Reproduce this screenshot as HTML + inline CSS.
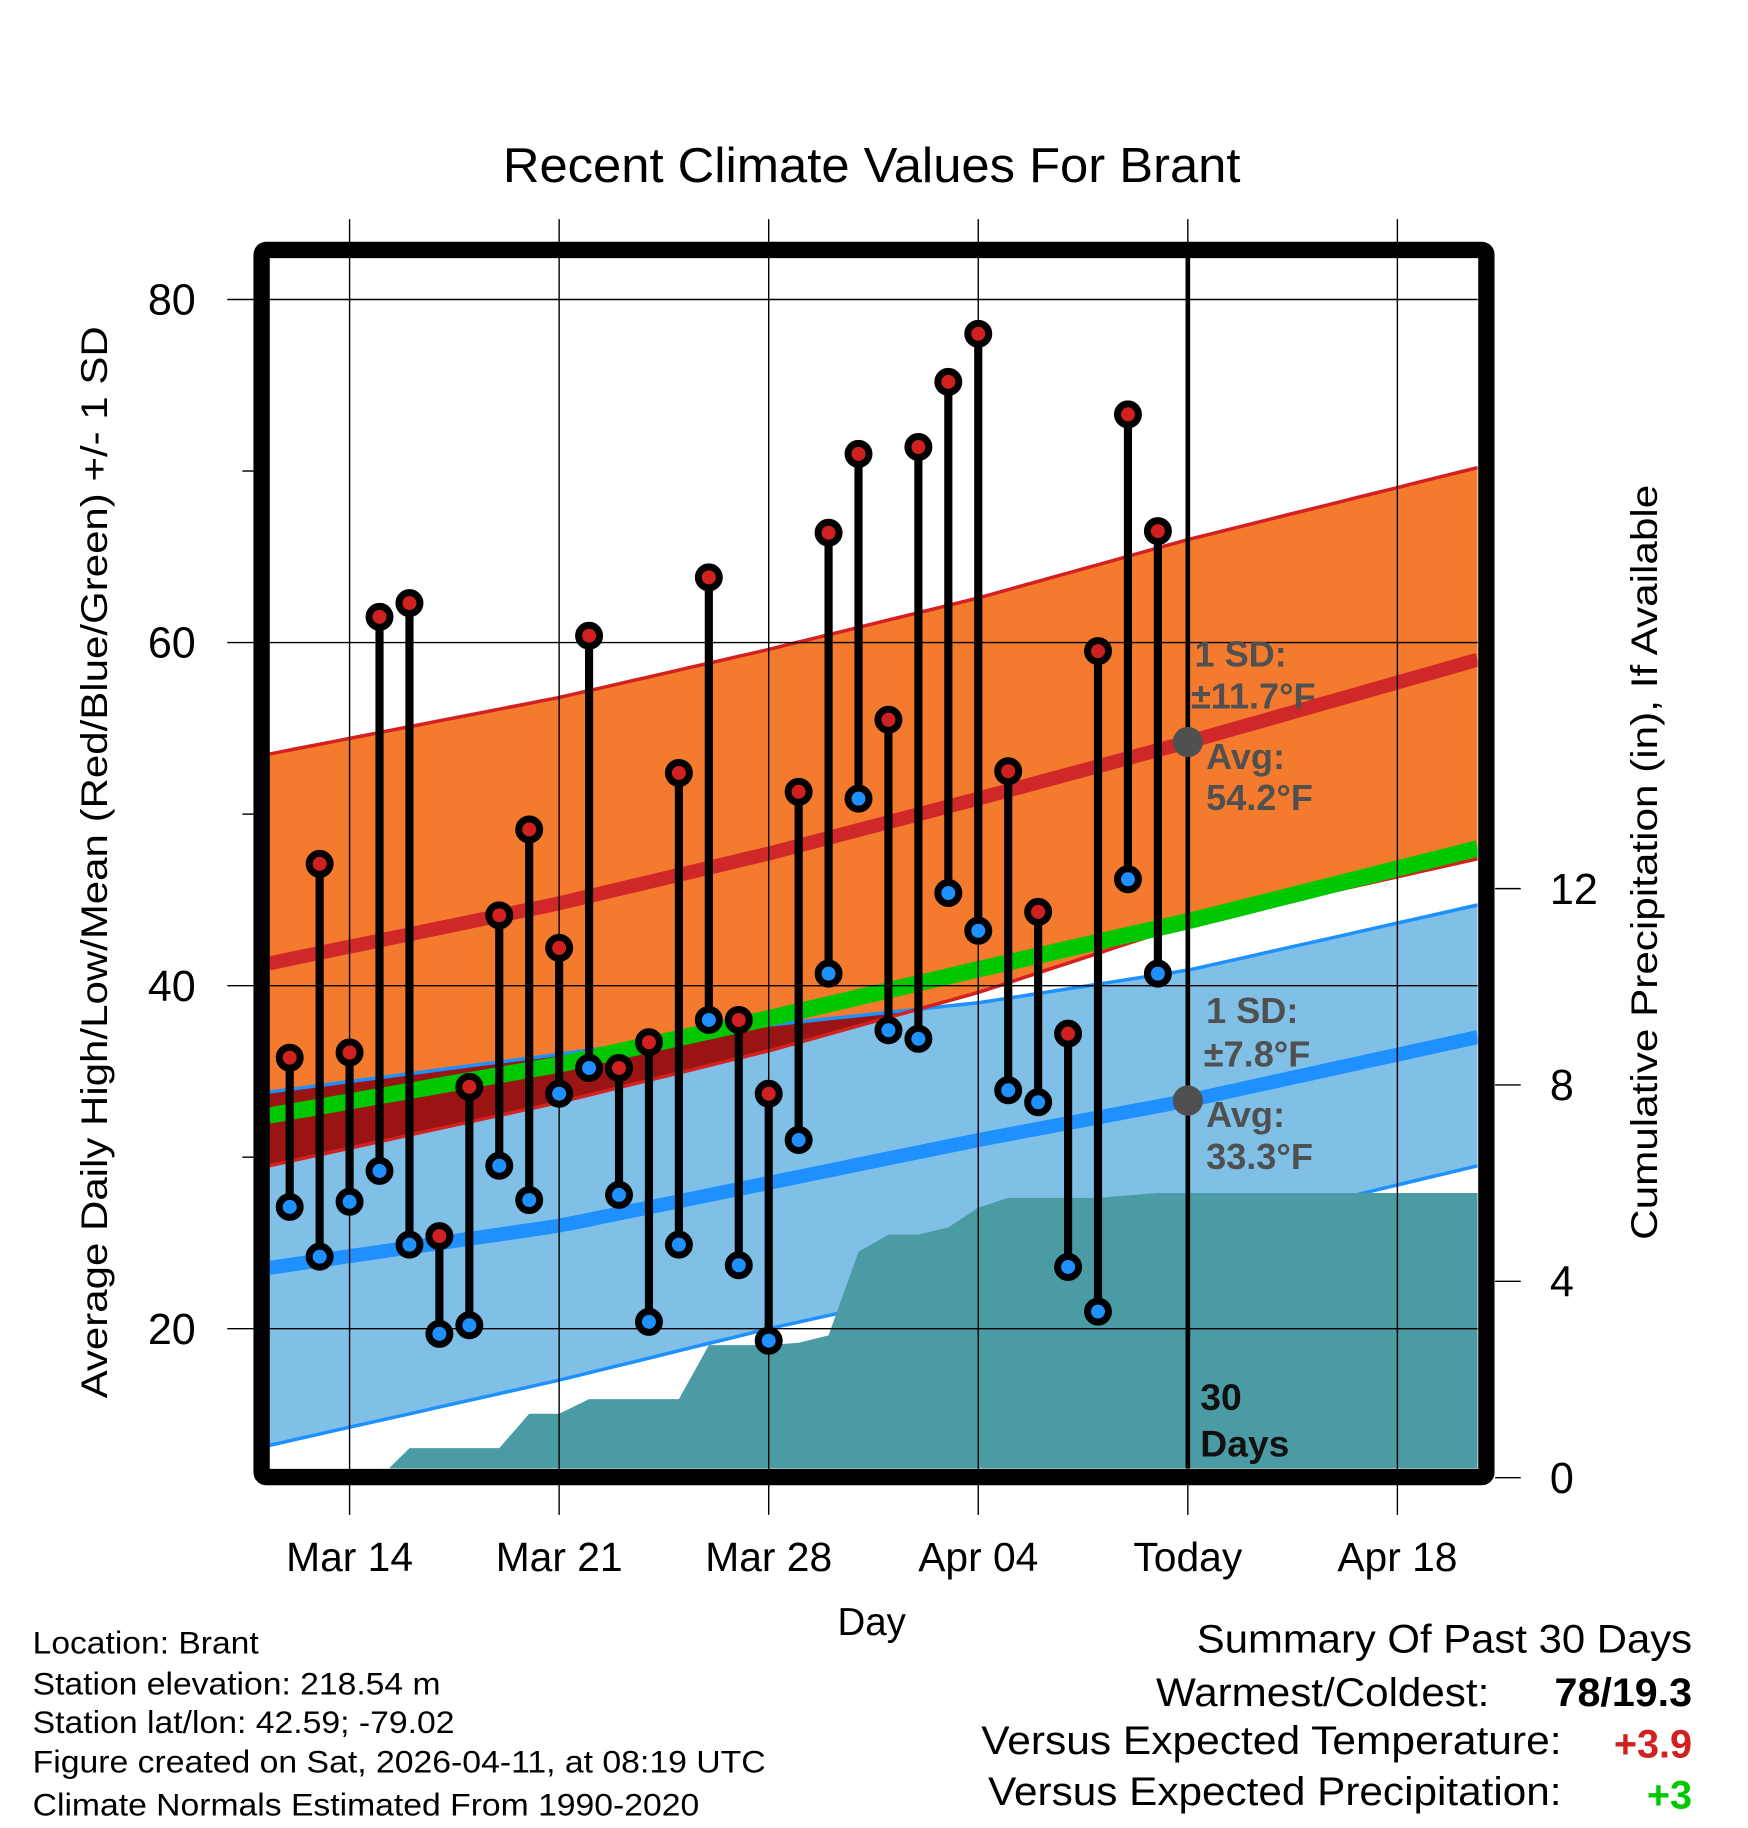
<!DOCTYPE html>
<html><head><meta charset="utf-8"><style>
html,body{margin:0;padding:0;background:#fff}
svg{display:block}
text{font-family:"Liberation Sans",sans-serif}
</style></head><body>
<svg id="chart" xmlns="http://www.w3.org/2000/svg" width="1748" height="1828" viewBox="0 0 1500 1568.65">
<rect x="0" y="0" width="1500" height="1568.65" fill="#fff"/>
<text x="748" y="156" font-size="42" text-anchor="middle" textLength="633" lengthAdjust="spacingAndGlyphs">Recent Climate Values For Brant</text>
<g id="plot"></g>
<text transform="translate(92,740) rotate(-90)" font-size="32" text-anchor="middle" textLength="920" lengthAdjust="spacingAndGlyphs">Average Daily High/Low/Mean (Red/Blue/Green) +/- 1 SD</text>
<text transform="translate(1422,740) rotate(-90)" font-size="32" text-anchor="middle" textLength="648" lengthAdjust="spacingAndGlyphs">Cumulative Precipitation (in), If Available</text>
<text x="748" y="1403" font-size="33" text-anchor="middle">Day</text>
<g font-size="27">
<text x="28" y="1419" textLength="194" lengthAdjust="spacingAndGlyphs">Location: Brant</text>
<text x="28" y="1454" textLength="350" lengthAdjust="spacingAndGlyphs">Station elevation: 218.54 m</text>
<text x="28" y="1487" textLength="362" lengthAdjust="spacingAndGlyphs">Station lat/lon: 42.59; -79.02</text>
<text x="28" y="1521" textLength="629" lengthAdjust="spacingAndGlyphs">Figure created on Sat, 2026-04-11, at 08:19 UTC</text>
<text x="28" y="1558" textLength="572" lengthAdjust="spacingAndGlyphs">Climate Normals Estimated From 1990-2020</text>
</g>
<g font-size="34">
<text x="1452" y="1418" text-anchor="end" textLength="425" lengthAdjust="spacingAndGlyphs">Summary Of Past 30 Days</text>
<text x="1278" y="1464" text-anchor="end" textLength="286" lengthAdjust="spacingAndGlyphs">Warmest/Coldest:</text>
<text x="1452" y="1464" text-anchor="end" font-weight="bold" textLength="118" lengthAdjust="spacingAndGlyphs">78/19.3</text>
<text x="1340" y="1505" text-anchor="end" textLength="498" lengthAdjust="spacingAndGlyphs">Versus Expected Temperature:</text>
<text x="1452" y="1508" text-anchor="end" font-weight="bold" fill="#d02020">+3.9</text>
<text x="1340" y="1549" text-anchor="end" textLength="492" lengthAdjust="spacingAndGlyphs">Versus Expected Precipitation:</text>
<text x="1452" y="1552" text-anchor="end" font-weight="bold" fill="#00c800">+3</text>
</g>
</svg>
<script>
// ---- data ----
var dayLabels = ["Mar 12","Mar 13","Mar 14","Mar 15","Mar 16","Mar 17","Mar 18","Mar 19","Mar 20","Mar 21","Mar 22","Mar 23","Mar 24","Mar 25","Mar 26","Mar 27","Mar 28","Mar 29","Mar 30","Mar 31","Apr 01","Apr 02","Apr 03","Apr 04","Apr 05","Apr 06","Apr 07","Apr 08","Apr 09","Apr 10"];
var highs = [35.8,47.1,36.1,61.5,62.3,25.4,34.1,44.1,49.1,42.2,60.4,35.2,36.7,52.4,63.8,38.0,33.7,51.3,66.4,71.0,55.5,71.4,75.2,78.0,52.5,44.3,37.2,59.5,73.3,66.5];
var lows  = [27.1,24.2,27.4,29.2,24.9,19.7,20.2,29.5,27.5,33.7,35.2,27.8,20.4,24.9,38.0,23.7,19.3,31.0,40.7,50.9,37.4,36.9,45.4,43.2,33.9,33.2,23.6,21.0,46.2,40.7];
var precip = [0,0,0,0,0.6,0.6,0.6,0.6,1.3,1.3,1.6,1.6,1.6,1.6,2.7,2.7,2.7,2.75,2.9,4.6,4.95,4.95,5.1,5.5,5.7,5.7,5.7,5.7,5.75,5.8];
var normDays = [-0.685,9,16,23,30,39.68];
var normHigh = [41.3,44.8,47.7,50.9,54.2,59.0];
var normLow  = [23.55,26.0,28.5,31.0,33.3,37.0];
var highUpper = [53.5,56.8,59.6,62.6,66.0,70.2];
var highLower = [29.5,33.2,36.2,39.6,43.6,47.4];
var lowUpper  = [33.8,36.0,37.7,39.0,40.9,44.7];
var lowLower  = [13.2,17.0,20.0,22.7,25.45,29.5];
var sdHigh = 11.7, sdLow = 7.8;
var xTickDays = [2,9,16,23,30,37];
var xTickLabels = ["Mar 14","Mar 21","Mar 28","Apr 04","Today","Apr 18"];
var yTicks = [20,40,60,80];
var yMinor = [30,50,70];
var pTicks = [0,4,8,12];

// ---- axes ----
var L=231,R=1268,T=221,B=1260;
function X(d){return 248.6+d*25.69;}
function Y(v){return 257+(80-v)*14.72;}
function P(v){return 1268-v*42.12;}
function interp(d,arr){for(var i=0;i<normDays.length-1;i++){if(d<=normDays[i+1]||i==normDays.length-2){var t=(d-normDays[i])/(normDays[i+1]-normDays[i]);return arr[i]+t*(arr[i+1]-arr[i]);}}}
var NS="http://www.w3.org/2000/svg";
var g=document.getElementById('plot');
function mk(tag,attrs,parent){var e=document.createElementNS(NS,tag);for(var k in attrs)e.setAttribute(k,attrs[k]);(parent||g).appendChild(e);return e;}
var clip=mk('clipPath',{id:'pc'});mk('rect',{x:L,y:T,width:R-L,height:B-T},clip);
var inner=mk('g',{'clip-path':'url(#pc)'});



var N=80,dStart=-0.685,dEnd=39.68,samp=[];
for(var i=0;i<=N;i++)samp.push(dStart+(dEnd-dStart)*i/N);
function band(fTop,fBot){var a=samp.map(function(d){return X(d).toFixed(1)+','+Y(fTop(d)).toFixed(1)});var b=samp.slice().reverse().map(function(d){return X(d).toFixed(1)+','+Y(fBot(d)).toFixed(1)});return a.concat(b).join(' ');}
function line(f){return samp.map(function(d){return X(d).toFixed(1)+','+Y(f(d)).toFixed(1)}).join(' ');}
var hM=function(d){return interp(d,normHigh)}, lM=function(d){return interp(d,normLow)};
var hU=function(d){return interp(d,highUpper)}, hL=function(d){return interp(d,highLower)};
var lU=function(d){return interp(d,lowUpper)}, lL=function(d){return interp(d,lowLower)};

var e=mk('polygon',{points:band(lU,lL),fill:'#80c0e6'},inner);


e=mk('polygon',{points:band(hU,hL),fill:'#f47a2e'},inner);


e=mk('polygon',{points:band(function(d){return Math.max(lU(d),hL(d))},hL),fill:'#9a1414'},inner);


[[lU,'#1e90ff'],[lL,'#1e90ff'],[hU,'#d42020'],[hL,'#d42020']].forEach(function(p){
 var l=mk('polyline',{points:line(p[0]),fill:'none',stroke:p[1],'stroke-width':3},inner);
 
 
});
// precip area
var pp=[X(-0.685)+','+P(0)];
precip.forEach(function(v,i){pp.push(X(i).toFixed(1)+','+P(v).toFixed(1));});
pp.push(R+','+P(precip[precip.length-1]).toFixed(1));pp.push(R+','+(B+20));pp.push(L+','+(B+20));
e=mk('polygon',{points:pp.join(' '),fill:'#4a9ba4'},inner);


// gridlines
yTicks.forEach(function(v){var gl=mk('line',{x1:195,x2:R,y1:Y(v),y2:Y(v),stroke:'#000','stroke-width':1.2});});
xTickDays.forEach(function(d){var gl=mk('line',{x1:X(d),x2:X(d),y1:188,y2:1300,stroke:'#000','stroke-width':1.2});});
yMinor.forEach(function(v){var t=mk('line',{x1:208,x2:220,y1:Y(v),y2:Y(v),stroke:'#000','stroke-width':1.2});});
// mean lines
e=mk('polyline',{points:line(function(d){return (hM(d)+lM(d))/2}),fill:'none',stroke:'#00c800','stroke-width':14},inner);


e=mk('polyline',{points:line(hM),fill:'none',stroke:'#d02828','stroke-width':12},inner);


e=mk('polyline',{points:line(lM),fill:'none',stroke:'#1e90ff','stroke-width':12},inner);


// today line
e=mk('line',{x1:X(30),x2:X(30),y1:T,y2:B,stroke:'#000','stroke-width':4});


// avg dots and labels
var lab=mk('g',{'font-size':31,'font-weight':'bold',fill:'#505050'});


mk('circle',{cx:X(30),cy:Y(normHigh[4]),r:13,fill:'#505050'},lab);
mk('circle',{cx:X(30),cy:Y(normLow[4]),r:13,fill:'#505050'},lab);
[["1 SD:",1025,572],["\u00b1"+sdHigh+"\u00b0F",1022,608],["Avg:",1035,660],[normHigh[4].toFixed(1)+"\u00b0F",1035,695],["1 SD:",1035,878],["\u00b1"+sdLow+"\u00b0F",1033,915],["Avg:",1035,967],[normLow[4].toFixed(1)+"\u00b0F",1035,1003]].forEach(function(t){var tx=mk('text',{x:t[1],y:t[2]},lab);tx.textContent=t[0];});
// stems + dots
highs.forEach(function(h,i){
 var s=mk('line',{x1:X(i),x2:X(i),y1:Y(h),y2:Y(lows[i]),stroke:'#000','stroke-width':7});
 
 
});
highs.forEach(function(h,i){
 var c=mk('circle',{cx:X(i),cy:Y(h),r:9,fill:'#d02020',stroke:'#000','stroke-width':6});
 
 
 var c2=mk('circle',{cx:X(i),cy:Y(lows[i]),r:9,fill:'#1e90ff',stroke:'#000','stroke-width':6});
 
 
});
// 30 days label
var td=mk('g',{'font-size':32,'font-weight':'bold',fill:'#111'});


var t1=mk('text',{x:1030,y:1210},td);t1.textContent="30";
var t2=mk('text',{x:1030,y:1250},td);t2.textContent="Days";
// frame
e=mk('rect',{x:224.5,y:214.5,width:1051,height:1053,fill:'none',stroke:'#000','stroke-width':14,rx:4});


// y labels
yTicks.forEach(function(v){var t=mk('text',{x:168,y:Y(v)+13,'font-size':37,'text-anchor':'end'});t.textContent=v;});
xTickDays.forEach(function(d,i){var t=mk('text',{x:X(d),y:1348,'font-size':35,'text-anchor':'middle'});t.textContent=xTickLabels[i];});
pTicks.forEach(function(v){
 var tk=mk('line',{x1:1283,x2:1305,y1:P(v),y2:P(v),stroke:'#000','stroke-width':1.2});
 
 
 var t=mk('text',{x:1330,y:P(v)+13,'font-size':37});t.textContent=v;
 
 
});
</script>
</body></html>
